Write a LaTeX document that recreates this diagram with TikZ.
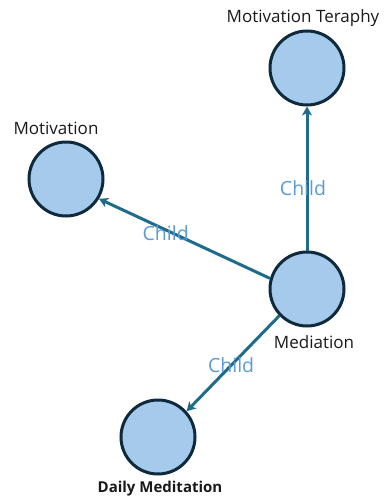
\documentclass[tikz,border=0pt]{standalone}
\usepackage{fontspec}
\setmainfont{Open Sans}
\usetikzlibrary{arrows.meta,positioning}
\definecolor{topicfill}{HTML}{A6CAEC}
\definecolor{topicdraw}{HTML}{0E2A3B}
\definecolor{childline}{HTML}{1E6B8C}
\definecolor{childtext}{HTML}{5B9BD5}
\begin{document}
\begin{tikzpicture}[->, >={Stealth[length=9pt,width=10pt,inset=2.5pt]}, x=1pt, y=-1pt]
 % Define styles
	\tikzstyle{topic} = [circle, draw=topicdraw, fill=topicfill, line width=3pt, minimum size=74pt, inner sep=0pt]
	\tikzstyle{title} = [text=black!90, font=\fontsize{17}{20}\selectfont, inner sep=0pt]
	\tikzstyle{child} = [draw=childline, line width=3pt]
	\tikzstyle{childtag} = [text=childtext, font=\fontsize{19.5}{22}\selectfont, inner sep=0pt]
	\useasboundingbox (0,0) rectangle (383,498);
%%====Topics===============================================================
	\node	[topic]	(mediation)		at (307,289)	{};
	\node	[topic]	(teraphy)		at (307,68)		{};
	\node	[topic]	(motivation)	at (66,179)		{};
	\node	[topic]	(daily)			at (158,437)	{};
%%====Names===============================================================
	\node	[title]	(mediationname)	at (314,342)	{Mediation};
	\node	[title]	(teraphyname)	at (303,18)		{Motivation Teraphy};
	\node	[title]	(motivationname)	at (56,128)	{Motivation};
	\node	[title, font=\bfseries\fontsize{15}{18}\selectfont]	(dailyname)	at (160,489)	{Daily Meditation};
%%====Child links===============================================================
	\path [child] (mediation.north) -- node [childtag, pos=0.43, xshift=-4pt] {Child} (teraphy.south);
	\path [child] (mediation.164) -- node [childtag, pos=0.61, yshift=-3pt] {Child} (motivation.-31);
	\path [child] (mediation.-136) -- node [childtag, pos=0.52] {Child} (daily.42);
\end{tikzpicture}
\end{document}
